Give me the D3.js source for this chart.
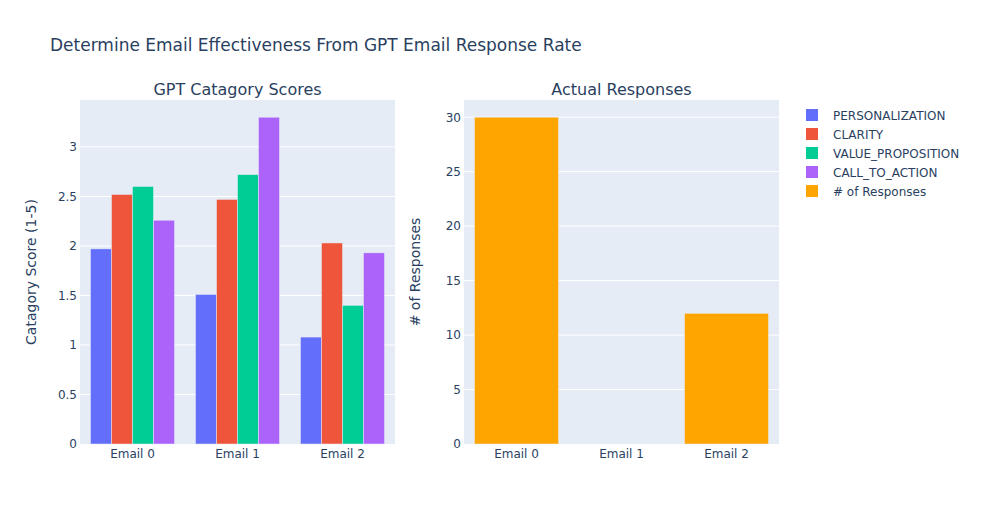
<!DOCTYPE html>
<html>
<head>
<meta charset="utf-8">
<script src="https://cdn.jsdelivr.net/npm/d3@7"></script>
<style>
  body { margin: 0; background: #fff; }
  text { font-family: "DejaVu Sans", verdana, arial, sans-serif; fill: #2a3f5f; }
</style>
</head>
<body>
<svg id="canvas" width="984" height="525"></svg>
<script>
const emails = ["Email 0", "Email 1", "Email 2"];
const categories = ["PERSONALIZATION", "CLARITY", "VALUE_PROPOSITION", "CALL_TO_ACTION"];
const catColors = ["#636efa", "#EF553B", "#00cc96", "#ab63fa"];
const personalization = [1.97, 1.51, 1.08];
const clarity = [2.52, 2.47, 2.03];
const valueProposition = [2.60, 2.72, 1.40];
const callToAction = [2.26, 3.30, 1.93];
const responses = [30, 0, 12];
const responseColor = "orange";
const scoreTicks = [0, 0.5, 1, 1.5, 2, 2.5, 3];
const responseTicks = [0, 5, 10, 15, 20, 25, 30];

const scoreSeries = [personalization, clarity, valueProposition, callToAction];

const svg = d3.select("#canvas");
const plotTop = 100, plotBottom = 444;

// title
svg.append("text")
    .attr("x", 50).attr("y", 51)
    .style("font-size", "17px")
    .text("Determine Email Effectiveness From GPT Email Response Rate");

function panel(x0, x1, title, yTitle, yMax, ticks) {
    const g = svg.append("g");
    g.append("rect")
        .attr("x", x0).attr("y", plotTop)
        .attr("width", x1 - x0).attr("height", plotBottom - plotTop)
        .attr("fill", "#E5ECF6");

    const x = d3.scaleBand().domain(emails).range([x0, x1]).paddingInner(0.2).paddingOuter(0.1);
    const y = d3.scaleLinear().domain([0, yMax]).range([plotBottom, plotTop]);

    g.selectAll(".grid").data(ticks.slice(1)).join("line")
        .attr("x1", x0).attr("x2", x1)
        .attr("y1", d => y(d)).attr("y2", d => y(d))
        .attr("stroke", "#fff").attr("stroke-width", 1);

    const yAxis = g.append("g")
        .attr("transform", `translate(${x0},0)`)
        .call(d3.axisLeft(y).tickValues(ticks).tickSize(0).tickPadding(3).tickFormat(d3.format("~g")));
    yAxis.select(".domain").remove();
    yAxis.selectAll("text").style("font-size", "12px").attr("fill", "#2a3f5f");

    const xAxis = g.append("g")
        .attr("transform", `translate(0,${plotBottom})`)
        .call(d3.axisBottom(x).tickSize(0).tickPadding(5));
    xAxis.select(".domain").remove();
    xAxis.selectAll("text").style("font-size", "12px").attr("fill", "#2a3f5f");

    g.append("text")
        .attr("x", (x0 + x1) / 2).attr("y", 95)
        .attr("text-anchor", "middle")
        .style("font-size", "16px")
        .text(title);

    g.append("text")
        .attr("transform", `translate(${x0 - 44},${(plotTop + plotBottom) / 2}) rotate(-90)`)
        .attr("text-anchor", "middle")
        .style("font-size", "14px")
        .text(yTitle);

    return { g, x, y };
}

// left: category scores
const left = panel(80, 395, "GPT Catagory Scores", "Catagory Score (1-5)", 3.3 * 1.0526, scoreTicks);
const inner = d3.scaleBand().domain(categories).range([0, left.x.bandwidth()]);
categories.forEach((c, ci) => {
    left.g.selectAll(".bar" + ci).data(scoreSeries[ci]).join("rect")
        .attr("x", (d, i) => left.x(emails[i]) + inner(c))
        .attr("width", inner.bandwidth())
        .attr("y", d => left.y(d))
        .attr("height", d => left.y(0) - left.y(d))
        .attr("fill", catColors[ci])
        .attr("stroke", "#E5ECF6").attr("stroke-width", 0.5);
});

// right: responses
const right = panel(464, 779, "Actual Responses", "# of Responses", 30 * 1.0526, responseTicks);
right.g.selectAll(".rbar").data(responses).join("rect")
    .attr("x", (d, i) => right.x(emails[i]))
    .attr("width", right.x.bandwidth())
    .attr("y", d => right.y(d))
    .attr("height", d => right.y(0) - right.y(d))
    .attr("fill", responseColor)
    .attr("stroke", "#E5ECF6").attr("stroke-width", 0.5);

// legend
const legendItems = categories.map((c, i) => ({ name: c, color: catColors[i] }))
    .concat([{ name: "# of Responses", color: responseColor }]);
const legend = svg.append("g").attr("transform", "translate(806,115)");
legendItems.forEach((d, i) => {
    const row = legend.append("g").attr("transform", `translate(0,${i * 19})`);
    row.append("rect").attr("x", 0).attr("y", -6).attr("width", 12).attr("height", 12)
        .attr("fill", d.color);
    row.append("text").attr("x", 27).attr("y", 4.5)
        .style("font-size", "12px").text(d.name);
});
</script>
</body>
</html>
